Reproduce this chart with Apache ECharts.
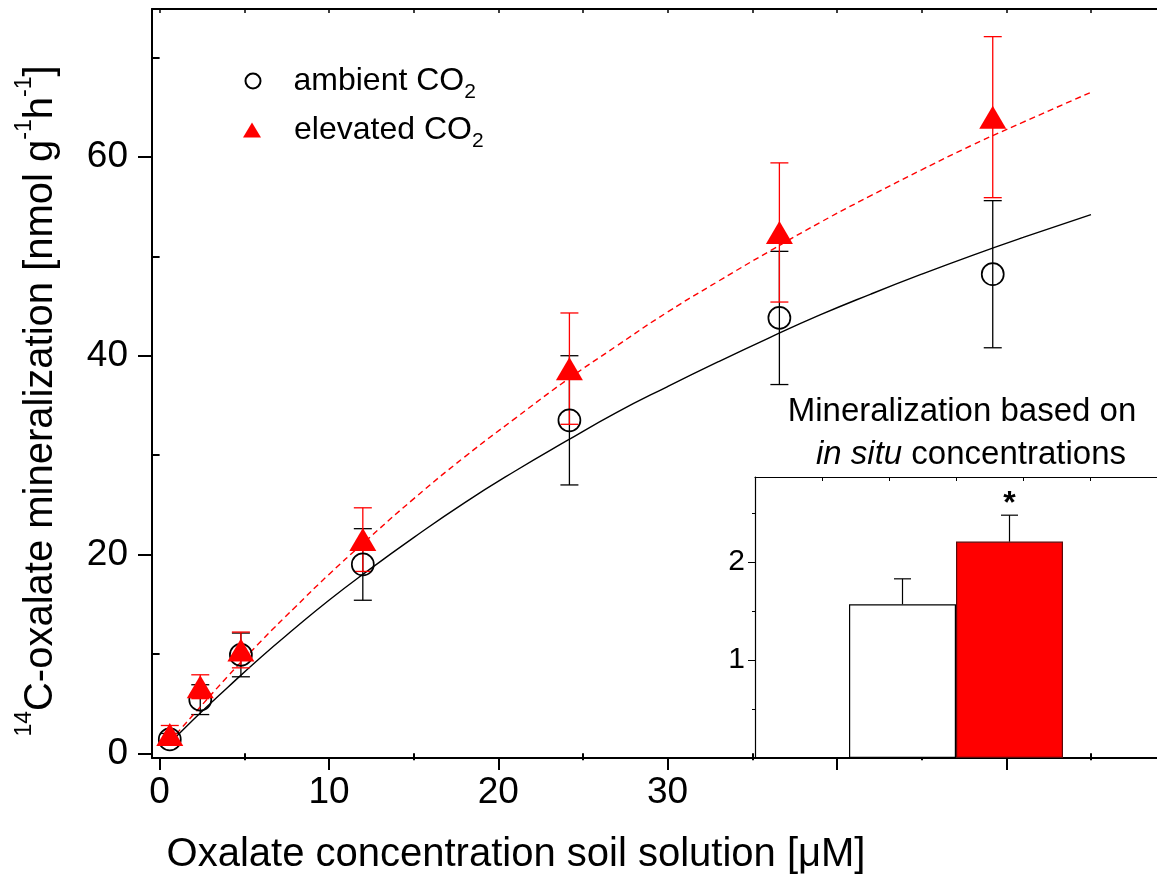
<!DOCTYPE html>
<html>
<head>
<meta charset="utf-8">
<script src="https://cdn.jsdelivr.net/npm/echarts@6/dist/echarts.min.js"></script>
<style>
  html, body { margin: 0; padding: 0; background: #fff; }
  #chart { width: 1157px; height: 882px; }
</style>
</head>
<body>
<div id="chart"></div>
<script>
// Oxalate concentration in soil solution (µM)
const xConc = [0.6, 2.4, 4.8, 12.0, 24.2, 36.6, 49.2];
// 14C-oxalate mineralization (nmol g-1 h-1), mean and error
const ambientMean = [1.4, 5.4, 9.9, 19.0, 33.5, 43.8, 48.2];
const ambientErr = [0.6, 1.5, 2.2, 3.6, 6.5, 6.7, 7.4];
const elevatedMean = [1.9, 6.7, 10.4, 21.5, 38.7, 52.4, 64.0];
const elevatedErr = [0.9, 1.2, 1.8, 3.2, 5.6, 7.0, 8.1];
// Fitted kinetic curves
const fitX = [0.6, 2, 4, 6, 8, 10, 12, 15, 18, 21, 24, 27, 30, 33, 36, 39, 42, 45, 48, 51, 55];
const fitAmbient = [1.0, 3.4, 6.6, 9.7, 12.6, 15.4, 18.0, 21.7, 25.2, 28.4, 31.4, 34.3, 36.9, 39.4, 41.8, 44.1, 46.2, 48.2, 50.1, 51.9, 54.2];
const fitElevated = [1.2, 3.9, 7.7, 11.3, 14.7, 18.0, 21.1, 25.6, 29.8, 33.7, 37.5, 41.0, 44.4, 47.5, 50.5, 53.4, 56.1, 58.7, 61.2, 63.5, 66.5];
// Tick values
const xMajorTicks = [0, 10, 20, 30, 40, 50];
const xTickLabels = [0, 10, 20, 30];
const xMinorTicks = [5, 15, 25, 35, 45, 55];
const xTopTicks = [0, 5, 10, 15, 20, 25, 30, 35, 40, 45, 50, 55];
const yMajorTicks = [0, 20, 40, 60];
const yMinorTicks = [10, 30, 50, 70];
// Inset: mineralization at in situ concentrations
const inSituCategory = ['in situ'];
const inSituNames = ['ambient (in situ)', 'elevated (in situ)'];
const inSituMean = [1.57, 2.21];
const inSituErr = [0.26, 0.27];
const inSituSig = ['', '*'];
const insetMajorTicks = [1, 2];
const insetMinorTicks = [0.5, 1.5, 2.5];

const FONT = '"Liberation Sans", Arial, Helvetica, sans-serif';
const RED = '#ff0000';
const BAR_W = 107;

const chart = echarts.init(document.getElementById('chart'));

function errorBars(color, capHalf, lw) {
  return function (params, api) {
    const x = api.value(0), m = api.value(1), e = api.value(2);
    const hi = api.coord([x, m + e]);
    const lo = api.coord([x, m - e]);
    const st = { stroke: color, lineWidth: lw };
    return {
      type: 'group',
      children: [
        { type: 'line', shape: { x1: hi[0], y1: hi[1], x2: lo[0], y2: lo[1] }, style: st },
        { type: 'line', shape: { x1: hi[0] - capHalf, y1: hi[1], x2: hi[0] + capHalf, y2: hi[1] }, style: st },
        { type: 'line', shape: { x1: lo[0] - capHalf, y1: lo[1], x2: lo[0] + capHalf, y2: lo[1] }, style: st }
      ]
    };
  };
}

function insetErrorBars(params, api) {
  const idx = api.value(3);
  const m = api.value(1), e = api.value(2);
  const base = api.coord([api.value(0), m]);
  const top = api.coord([api.value(0), m + e]);
  const cx = base[0] + (idx - 0.5) * BAR_W;
  const st = { stroke: '#000', lineWidth: 1.2 };
  const children = [
    { type: 'line', shape: { x1: cx, y1: base[1], x2: cx, y2: top[1] }, style: st },
    { type: 'line', shape: { x1: cx - 8.5, y1: top[1], x2: cx + 8.5, y2: top[1] }, style: st }
  ];
  const sig = inSituSig[idx];
  if (sig) {
    children.push({
      type: 'text', x: cx, y: top[1] - 11,
      style: { text: sig, fontFamily: FONT, fontWeight: 'bold', fontSize: 32, fill: '#000', align: 'center', verticalAlign: 'middle' }
    });
  }
  return { type: 'group', children };
}

const legendRich = {
  gap: { width: 28 },
  t: { fontFamily: FONT, fontSize: 32, color: '#000', lineHeight: 44, verticalAlign: 'middle' },
  sub: { fontFamily: FONT, fontSize: 21, color: '#000', lineHeight: 18, verticalAlign: 'bottom' }
};
const legendFormatter = name => '{gap|}{t|' + name.replace('CO2', 'CO') + '}{sub|2}';

const axisBase = {
  type: 'value',
  splitLine: { show: false },
  axisLine: { show: false },
  axisTick: { show: false },
  axisLabel: { show: false }
};
const mainLine = { show: true, onZero: false, lineStyle: { color: '#000', width: 2 } };
const insetLine = { show: true, onZero: false, lineStyle: { color: '#000', width: 1.2 } };
const tickLabel = { fontFamily: FONT, fontSize: 37, color: '#000' };

const X_MIN = -0.45, X_MAX = 58.9;
const Y_MIN = -0.47, Y_MAX = 74.88;

const option = {
  animation: false,
  backgroundColor: '#fff',
  grid: [
    { left: 152, top: 9, right: 0, bottom: 124, outerBoundsMode: 'none' },
    { left: 755, top: 477, right: 0, bottom: 124, outerBoundsMode: 'none', show: true, backgroundColor: '#fff', borderWidth: 0 }
  ],
  legend: [
    {
      data: ['ambient CO2'], orient: 'vertical', left: 239.5, top: 60,
      itemWidth: 15, itemHeight: 15, formatter: legendFormatter,
      textStyle: { rich: legendRich }, selectedMode: false
    },
    {
      data: ['elevated CO2'], orient: 'vertical', left: 238, top: 109,
      itemWidth: 18, itemHeight: 15, formatter: legendFormatter,
      textStyle: { rich: legendRich }, selectedMode: false
    }
  ],
  xAxis: [
    Object.assign({}, axisBase, {
      gridIndex: 0, position: 'bottom', min: X_MIN, max: X_MAX,
      axisLine: mainLine,
      axisTick: { show: true, length: 12, lineStyle: { color: '#000', width: 2 }, customValues: xMajorTicks },
      axisLabel: Object.assign({ show: true, margin: 16, customValues: xTickLabels }, tickLabel)
    }),
    Object.assign({}, axisBase, {
      gridIndex: 0, position: 'bottom', min: X_MIN, max: X_MAX,
      axisTick: { show: true, length: 7, lineStyle: { color: '#000', width: 2 }, customValues: xMinorTicks }
    }),
    Object.assign({}, axisBase, {
      gridIndex: 0, position: 'top', min: X_MIN, max: X_MAX,
      axisLine: mainLine,
      axisTick: { show: true, inside: true, length: 4, lineStyle: { color: '#000', width: 1.5 }, customValues: xTopTicks }
    }),
    {
      type: 'category', gridIndex: 1, data: inSituCategory,
      axisLine: { show: false }, axisTick: { show: false }, axisLabel: { show: false }, splitLine: { show: false }
    },
    Object.assign({}, axisBase, {
      gridIndex: 1, position: 'top', min: 0, max: 6, interval: 1, z: 8,
      axisLine: insetLine,
      axisTick: { show: true, inside: true, length: 4, lineStyle: { color: '#000', width: 1 } }
    })
  ],
  yAxis: [
    Object.assign({}, axisBase, {
      gridIndex: 0, position: 'left', min: Y_MIN, max: Y_MAX,
      axisLine: mainLine,
      axisTick: { show: true, length: 14, lineStyle: { color: '#000', width: 2 }, customValues: yMajorTicks },
      axisLabel: Object.assign({ show: true, margin: 24, customValues: yMajorTicks }, tickLabel)
    }),
    Object.assign({}, axisBase, {
      gridIndex: 0, position: 'left', min: Y_MIN, max: Y_MAX,
      axisTick: { show: true, length: 7, lineStyle: { color: '#000', width: 2 }, customValues: yMinorTicks }
    }),
    Object.assign({}, axisBase, {
      gridIndex: 1, position: 'left', min: 0, max: 2.87, z: 8,
      axisLine: insetLine,
      axisTick: { show: true, length: 7, lineStyle: { color: '#000', width: 1 }, customValues: insetMajorTicks },
      axisLabel: { show: true, margin: 10, customValues: insetMajorTicks, fontFamily: FONT, fontSize: 30, color: '#000' }
    }),
    Object.assign({}, axisBase, {
      gridIndex: 1, position: 'left', min: 0, max: 2.87, z: 8,
      axisTick: { show: true, length: 3, lineStyle: { color: '#000', width: 1 }, customValues: insetMinorTicks }
    })
  ],
  series: [
    {
      name: 'ambient error', type: 'custom', xAxisIndex: 0, yAxisIndex: 0,
      renderItem: errorBars('#000', 9, 1.3),
      data: xConc.map((x, i) => [x, ambientMean[i], ambientErr[i]]), z: 2
    },
    {
      name: 'elevated error', type: 'custom', xAxisIndex: 0, yAxisIndex: 0,
      renderItem: errorBars(RED, 9, 1.3),
      data: xConc.map((x, i) => [x, elevatedMean[i], elevatedErr[i]]), z: 3
    },
    {
      name: 'ambient fit', type: 'line', xAxisIndex: 0, yAxisIndex: 0,
      data: fitX.map((x, i) => [x, fitAmbient[i]]), smooth: true, symbol: 'none',
      lineStyle: { color: '#000', width: 1.4 }, z: 2
    },
    {
      name: 'elevated fit', type: 'line', xAxisIndex: 0, yAxisIndex: 0,
      data: fitX.map((x, i) => [x, fitElevated[i]]), smooth: true, symbol: 'none',
      lineStyle: { color: RED, width: 1.4, type: [6, 4] }, z: 2
    },
    {
      name: 'ambient CO2', type: 'scatter', xAxisIndex: 0, yAxisIndex: 0,
      data: xConc.map((x, i) => [x, ambientMean[i]]),
      symbol: 'circle', symbolSize: 22,
      itemStyle: { color: 'rgba(255,255,255,0)', borderColor: '#000', borderWidth: 1.7, opacity: 1 }, z: 4
    },
    {
      name: 'elevated CO2', type: 'scatter', xAxisIndex: 0, yAxisIndex: 0,
      data: xConc.map((x, i) => [x, elevatedMean[i]]),
      symbol: 'triangle', symbolSize: [27, 23],
      itemStyle: { color: RED, opacity: 1 }, z: 5
    },
    {
      name: inSituNames[0], type: 'bar', xAxisIndex: 3, yAxisIndex: 2,
      data: [inSituMean[0]], barWidth: BAR_W, barGap: '0%',
      itemStyle: { color: '#fff', borderColor: '#000', borderWidth: 1.2 }, z: 6
    },
    {
      name: inSituNames[1], type: 'bar', xAxisIndex: 3, yAxisIndex: 2,
      data: [inSituMean[1]], barWidth: BAR_W, barGap: '0%',
      itemStyle: { color: RED, borderColor: '#5a0a0a', borderWidth: 1.2 }, z: 6
    },
    {
      name: 'in situ error', type: 'custom', xAxisIndex: 3, yAxisIndex: 2,
      renderItem: insetErrorBars,
      data: inSituMean.map((m, i) => [0, m, inSituErr[i], i]), z: 7
    }
  ],
  graphic: [
    {
      type: 'text', x: 37, y: 401, rotation: Math.PI / 2,
      style: {
        text: '{sup|14}{t|C-oxalate mineralization [nmol g}{sup|-1}{t|h}{sup|-1}{t|]}',
        align: 'center', verticalAlign: 'middle',
        rich: {
          t: { fontFamily: FONT, fontSize: 40, fill: '#000', lineHeight: 48, verticalAlign: 'bottom' },
          sup: { fontFamily: FONT, fontSize: 23, fill: '#000', lineHeight: 30, verticalAlign: 'top' }
        }
      }
    },
    {
      type: 'text', x: 516, y: 855,
      style: { text: 'Oxalate concentration soil solution [μM]', fontFamily: FONT, fontSize: 40, fill: '#000', align: 'center', verticalAlign: 'middle' }
    },
    {
      type: 'text', x: 962, y: 412, z: 10,
      style: { text: 'Mineralization based on', fontFamily: FONT, fontSize: 33, fill: '#000', align: 'center', verticalAlign: 'middle' }
    },
    {
      type: 'text', x: 971, y: 455, z: 10,
      style: {
        text: '{i|in situ}{t| concentrations}', align: 'center', verticalAlign: 'middle',
        rich: {
          i: { fontFamily: FONT, fontSize: 33, fontStyle: 'italic', fill: '#000' },
          t: { fontFamily: FONT, fontSize: 33, fill: '#000' }
        }
      }
    }
  ]
};

chart.setOption(option);
</script>
</body>
</html>
